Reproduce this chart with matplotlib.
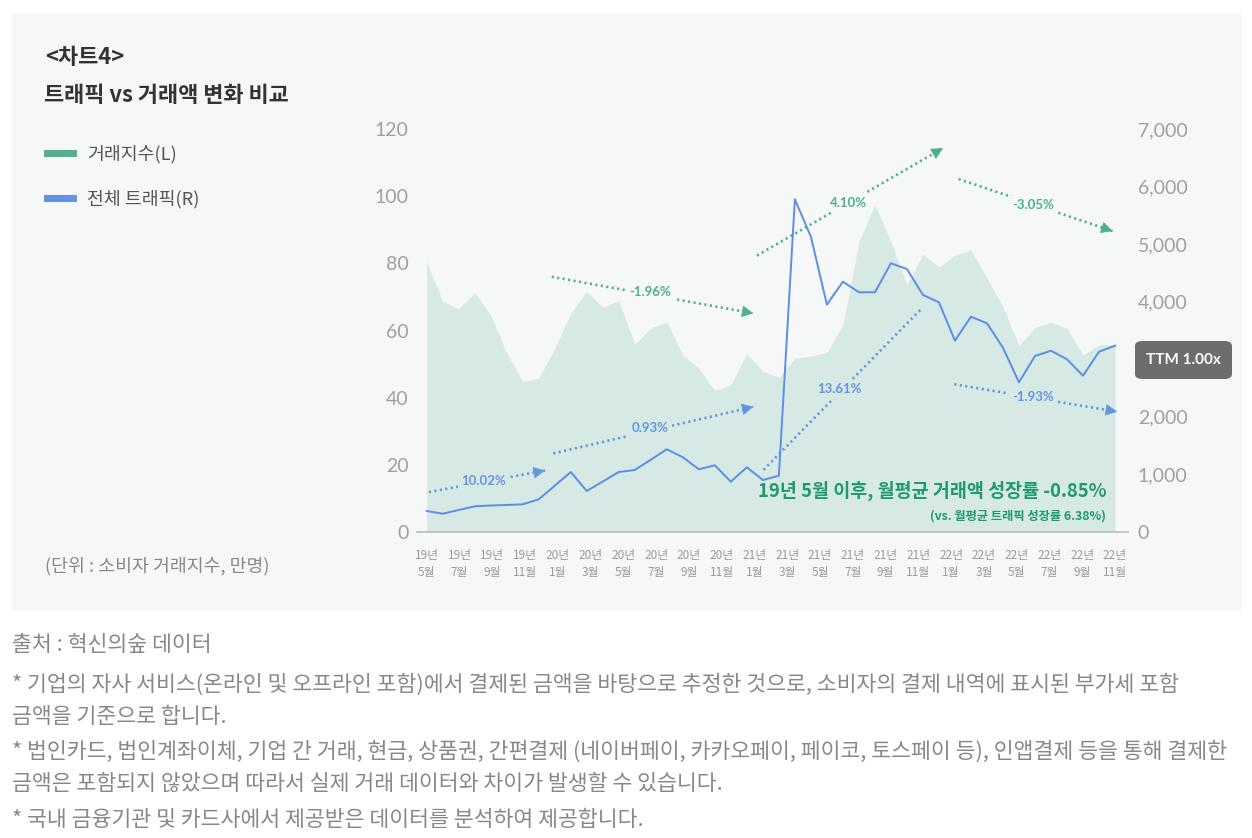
import numpy as np
import matplotlib
matplotlib.use("Agg")
import matplotlib.pyplot as plt
from matplotlib.patches import Rectangle, FancyBboxPatch

plt.rcParams['font.family'] = ['Lato', 'Noto Sans CJK KR', 'DejaVu Sans']

# ---------------- data ----------------
trade_index = [80.5, 68.6, 66.4, 71.3, 64.6, 53.2, 44.8, 45.8, 54.7, 65.1, 71.6, 66.9,
               68.8, 55.9, 60.7, 62.6, 52.7, 48.7, 42.1, 43.8, 53.2, 47.8, 46.1, 51.7,
               52.4, 53.4, 61.6, 86.5, 97.4, 86.5, 73.5, 82.8, 78.8, 82.5, 84.0, 75.5,
               67.1, 55.4, 60.9, 62.4, 60.7, 52.7, 55.7, 55.7]
traffic = [365, 318, 382, 446, 460, 469, 481, 568, 804, 1042, 712, 877,
           1042, 1077, 1256, 1437, 1298, 1089, 1159, 874, 1124, 903, 978, 5779,
           5130, 3950, 4348, 4164, 4164, 4667, 4568, 4117, 3990, 3323, 3740, 3625,
           3201, 2600, 3057, 3149, 3000, 2715, 3132, 3236]
label_years = ['19년'] * 4 + ['20년'] * 6 + ['21년'] * 6 + ['22년'] * 6
label_months = ['5월', '7월', '9월', '11월', '1월', '3월', '5월', '7월', '9월', '11월', '1월',
                '3월', '5월', '7월', '9월', '11월', '1월', '3월', '5월', '7월', '9월', '11월']
left_ticks = [0, 20, 40, 60, 80, 100, 120]
right_ticks = [0, 1000, 2000, 3000, 4000, 5000, 6000, 7000]
right_labels = ['0', '1,000', '2,000', '', '4,000', '5,000', '6,000', '7,000']  # 3,000 hidden by badge

# trend annotations: (start, end, label, label position, head)
green_trends = [((7.81, 76.0), (20.41, 65.1), '-1.96%', (13.96, 71.4), True),
                ((20.63, 82.3), (32.25, 114.3), '4.10%', (26.35, 98.1), True),
                ((33.23, 105.1), (42.85, 89.6), '-3.05%', (37.88, 97.3), True)]
blue_trends = [((0.14, 11.9), (7.39, 18.3), '10.02%', (3.54, 15.3), True),
               ((7.91, 23.4), (20.41, 37.3), '0.93%', (13.96, 30.9), True),
               ((21.04, 18.5), (30.89, 66.4), '13.61%', (25.79, 42.5), False),
               ((32.96, 44.0), (43.13, 35.8), '-1.93%', (37.88, 40.1), True)]

# ---------------- style ----------------
W, H = 1252, 838
BG = '#f6f7f7'
AREA = '#d6e9e4'
BLUE = '#5b8ee4'
GREEN = '#4fb08c'
DGREEN = '#1f9a6c'
GRAY = '#a0a0a0'
KR = ['Noto Sans CJK KR', 'DejaVu Sans']

fig = plt.figure(figsize=(W / 100, H / 100), dpi=100)
fig.patch.set_facecolor('white')

def fx(px):
    return px / W

def fy(py):
    return 1 - py / H

fig.patches.append(Rectangle((fx(12), fy(611)), fx(1242) - fx(12), fy(13) - fy(611),
                             transform=fig.transFigure, facecolor=BG, edgecolor='none', zorder=-5))

ax = fig.add_axes([fx(417), fy(532), fx(1128) - fx(417), fy(129) - fy(532)])
ax.set_zorder(1)
ax.set_facecolor('none')
x = np.arange(len(trade_index))
ax.fill_between(x, 0, trade_index, color=AREA, linewidth=0, zorder=1)
ax.set_xlim(-0.606, 43.81)
ax.set_ylim(0, 120)
ax.set_yticks(left_ticks)
ax.set_yticklabels([str(v) for v in left_ticks])
ax.set_xticks(np.linspace(0, len(trade_index) - 1, len(label_months)))
ax.set_xticklabels([f'{a}\n{b}' for a, b in zip(label_years, label_months)],
                   family=KR, fontsize=8.5, color='#9a9a9a', linespacing=1.45)
for s in ['top', 'right', 'left']:
    ax.spines[s].set_visible(False)
ax.spines['bottom'].set_color('#bdbdbd')
ax.spines['bottom'].set_linewidth(1.2)
ax.tick_params(axis='x', length=0, pad=12)
ax.tick_params(axis='y', length=0, pad=6, labelsize=14, labelcolor=GRAY)

ax2 = ax.twinx()
ax2.set_zorder(2)
ax2.set_facecolor('none')
ax2.set_ylim(0, 7000)
ax2.set_yticks(right_ticks)
ax2.set_yticklabels(right_labels)
for s in ['top', 'right', 'left', 'bottom']:
    ax2.spines[s].set_visible(False)
ax2.tick_params(axis='y', length=0, pad=7, labelsize=14, labelcolor=GRAY)
ax2.plot(x, traffic, color=BLUE, lw=1.4, zorder=5)

def draw_trend(start, end, label, lpos, color, head, inside):
    ax.plot([start[0], end[0]], [start[1], end[1]], color=color, lw=1.9,
            linestyle=(0, (0.8, 1.3)), zorder=3, solid_capstyle='butt')
    if head:
        dx = end[0] - start[0]
        dy = end[1] - start[1]
        ax.annotate('', xy=end, xytext=(end[0] - dx * 0.02, end[1] - dy * 0.02),
                    arrowprops=dict(arrowstyle='-|>,head_length=0.75,head_width=0.38',
                                    color=color, lw=0.5, shrinkA=0, shrinkB=0), zorder=4)
    bg = AREA if inside else BG
    ax.text(lpos[0], lpos[1], label, color=color, fontsize=9.5, fontweight='bold',
            ha='center', va='center', zorder=4,
            bbox=dict(boxstyle='square,pad=0.25', facecolor=bg, edgecolor='none'))

for (s, e, lab, lp, hd) in green_trends:
    draw_trend(s, e, lab, lp, GREEN, hd, False)
for (s, e, lab, lp, hd) in blue_trends:
    draw_trend(s, e, lab, lp, '#6496e0', hd, True)

# growth note
fig.text(fx(1106), fy(491), '19년 5월 이후, 월평균 거래액 성장률 -0.85%', ha='right', va='center',
         fontsize=13.3, fontweight='bold', color=DGREEN, family=KR, zorder=5)
fig.text(fx(1106), fy(516), '(vs. 월평균 트래픽 성장률 6.38%)', ha='right', va='center',
         fontsize=8.8, fontweight='bold', color=DGREEN, family=KR, zorder=5)

# TTM badge
fig.patches.append(FancyBboxPatch((fx(1135), fy(379)), fx(1232) - fx(1135), fy(341) - fy(379),
                                  boxstyle='round,pad=0,rounding_size=0.006',
                                  transform=fig.transFigure, facecolor='#6d6d6d',
                                  edgecolor='none', zorder=10))
fig.text(fx(1183.5), fy(360), 'TTM 1.00x', ha='center', va='center', fontsize=11,
         fontweight='bold', color='white', zorder=11)

# titles
fig.text(fx(45), fy(57), '<차트4>', ha='left', va='center', fontsize=15.8, fontweight='bold',
         color='#333333', family=KR)
fig.text(fx(44), fy(96), '트래픽 vs 거래액 변화 비교', ha='left', va='center', fontsize=15.8,
         fontweight='bold', color='#333333', family=KR)

# legend
fig.patches.append(Rectangle((fx(44), fy(157)), fx(77) - fx(44), fy(150) - fy(157),
                             transform=fig.transFigure, facecolor='#52b08e', edgecolor='none'))
fig.text(fx(87), fy(154), '거래지수(L)', ha='left', va='center', fontsize=13.2, color='#555555',
         family=KR)
fig.patches.append(Rectangle((fx(44), fy(202)), fx(77) - fx(44), fy(195) - fy(202),
                             transform=fig.transFigure, facecolor='#6491e3', edgecolor='none'))
fig.text(fx(87), fy(199), '전체 트래픽(R)', ha='left', va='center', fontsize=13.2, color='#555555',
         family=KR)

fig.text(fx(45), fy(566), '(단위 : 소비자 거래지수, 만명)', ha='left', va='center', fontsize=13.2,
         color='#888888', family=KR)

# footnotes
notes = [(645, '출처 : 혁신의숲 데이터'),
         (685, '* 기업의 자사 서비스(온라인 및 오프라인 포함)에서 결제된 금액을 바탕으로 추정한 것으로, 소비자의 결제 내역에 표시된 부가세 포함'),
         (717, '금액을 기준으로 합니다.'),
         (752, '* 법인카드, 법인계좌이체, 기업 간 거래, 현금, 상품권, 간편결제 (네이버페이, 카카오페이, 페이코, 토스페이 등), 인앱결제 등을 통해 결제한'),
         (784, '금액은 포함되지 않았으며 따라서 실제 거래 데이터와 차이가 발생할 수 있습니다.'),
         (820, '* 국내 금융기관 및 카드사에서 제공받은 데이터를 분석하여 제공합니다.')]
for py, t in notes:
    fig.text(fx(12), fy(py), t, ha='left', va='center', fontsize=15.6, color='#888888',
             family=KR, fontweight='light')

fig.savefig('out.png', dpi=100, facecolor='white')
